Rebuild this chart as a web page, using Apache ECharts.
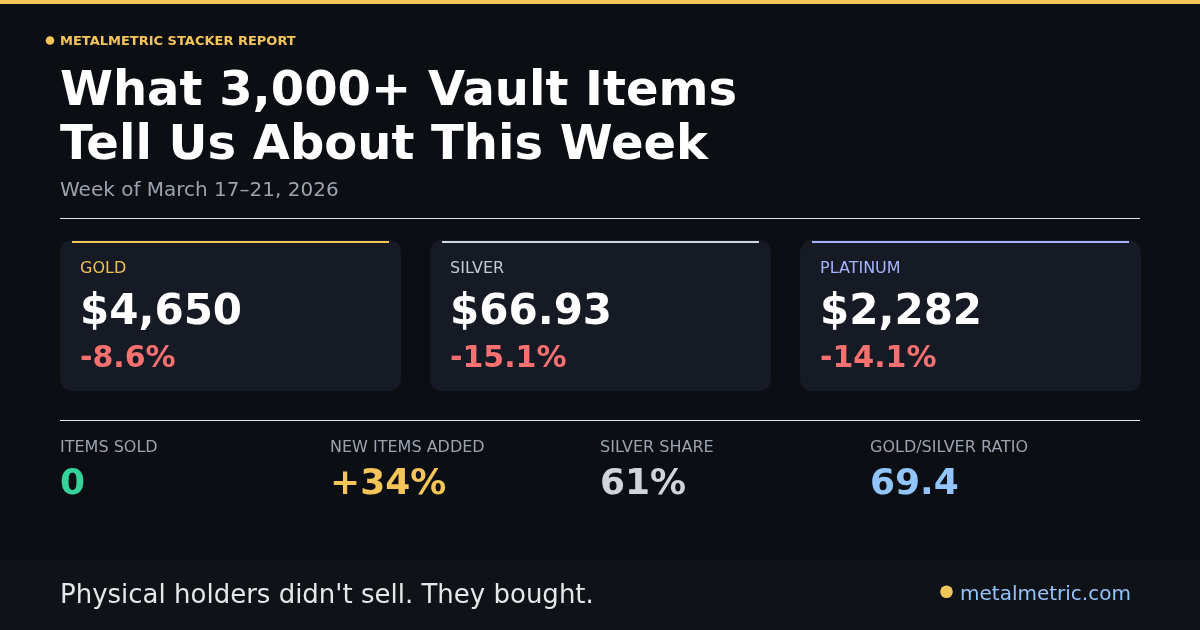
<!DOCTYPE html>
<html>
<head>
<meta charset="utf-8">
<script src="https://cdn.jsdelivr.net/npm/echarts@6/dist/echarts.min.js"></script>
<style>
  html, body { margin: 0; padding: 0; background: #0b0e13; }
  #chart { width: 1200px; height: 630px; }
</style>
</head>
<body>
<div id="chart"></div>
<script>
// ---- data ----
const kicker = 'METALMETRIC STACKER REPORT';
const titleLines = ['What 3,000+ Vault Items', 'Tell Us About This Week'];
const subtitle = 'Week of March 17\u201321, 2026';
const metals = ['GOLD', 'SILVER', 'PLATINUM'];
const prices = [4650, 66.93, 2282];
const priceDecimals = [0, 2, 0];
const changes = [-8.6, -15.1, -14.1];
const statLabels = ['ITEMS SOLD', 'NEW ITEMS ADDED', 'SILVER SHARE', 'GOLD/SILVER RATIO'];
const statValues = ['0', '+34%', '61%', '69.4'];
const tagline = "Physical holders didn't sell. They bought.";
const site = 'metalmetric.com';

// ---- styles ----
const FONT = '"DejaVu Sans", "Noto Sans", sans-serif';
const BG = '#0b0e13';
const FOOT_BG = '#0f1217';
const CARD_BG = '#161a24';
const GOLD = '#f5c55a';
const metalLabelColors = ['#f0c050', '#c3cad6', '#a5b4fc'];
const metalAccentColors = ['#f5c55a', '#cfd6e2', '#a5b4fc'];
const statColors = ['#34d399', '#f5c55a', '#d1d5db', '#93c5fd'];

function txt(text, x, baseline, size, weight, fill, align) {
  return {
    type: 'text',
    x: x,
    y: baseline - size * 0.28,
    silent: true,
    style: {
      text: text,
      font: (weight || 'normal') + ' ' + size + 'px ' + FONT,
      fill: fill,
      textAlign: align || 'left',
      align: align || 'left',
      textVerticalAlign: 'middle',
      verticalAlign: 'middle'
    }
  };
}
function rect(x, y, w, h, fill, r) {
  return { type: 'rect', silent: true, shape: { x: x, y: y, width: w, height: h, r: r || 0 }, style: { fill: fill } };
}

const els = [];
// top bar
els.push(rect(0, 0, 1200, 4, GOLD));
// footer band
els.push(rect(0, 560, 1200, 70, FOOT_BG));
// kicker
els.push({ type: 'circle', silent: true, shape: { cx: 50, cy: 40.5, r: 4.3 }, style: { fill: GOLD } });
els.push(txt(kicker, 60, 45.3, 13, 'bold', GOLD));
// title
titleLines.forEach(function (t, i) { els.push(txt(t, 60, 106 + i * 54, 48, 'bold', '#ffffff')); });
els.push(txt(subtitle, 60, 196.7, 20, 'normal', '#9ca3af'));
// rules
els.push(rect(60, 218, 1080, 1, '#e2e5ea'));
els.push(rect(60, 420, 1080, 1, '#e2e5ea'));
// cards
metals.forEach(function (m, i) {
  const x0 = 60 + i * 370;
  els.push(rect(x0, 240, 341, 151, CARD_BG, 12));
  els.push(rect(x0 + 12, 241, 317, 2, metalAccentColors[i]));
  els.push(txt(m, x0 + 20, 273.3, 16, 'normal', metalLabelColors[i]));
  const p = '$' + prices[i].toLocaleString('en-US', { minimumFractionDigits: priceDecimals[i], maximumFractionDigits: priceDecimals[i] });
  els.push(txt(p, x0 + 20, 325, 42, 'bold', '#ffffff'));
  const c = (changes[i] > 0 ? '+' : '') + changes[i].toFixed(1) + '%';
  els.push(txt(c, x0 + 20, 367.3, 30, 'bold', '#f87171'));
});
// stats
statLabels.forEach(function (l, i) {
  const x0 = 60 + i * 270;
  els.push(txt(l, x0, 452.7, 16, 'normal', '#9ca3af'));
  els.push(txt(statValues[i], x0, 495, 36, 'bold', statColors[i]));
});
// footer
els.push(txt(tagline, 60, 603.3, 26, 'normal', '#e5e7eb'));
els.push({ type: 'circle', silent: true, shape: { cx: 946.5, cy: 591.7, r: 6.3 }, style: { fill: GOLD } });
els.push(txt(site, 960, 600.7, 20, 'normal', '#93c5fd'));

const chart = echarts.init(document.getElementById('chart'), null, { renderer: 'canvas' });
chart.setOption({
  backgroundColor: BG,
  animation: false,
  graphic: { elements: els }
});
</script>
</body>
</html>
